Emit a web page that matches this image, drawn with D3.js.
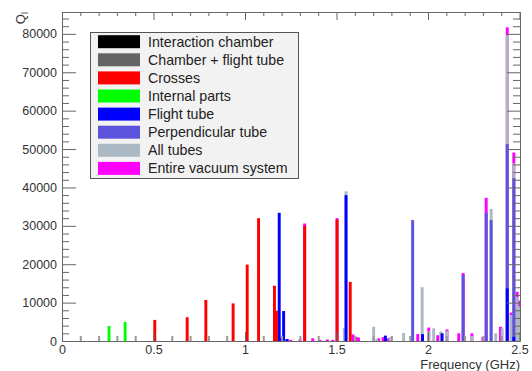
<!DOCTYPE html>
<html>
<head>
<meta charset="utf-8">
<script src="https://cdn.jsdelivr.net/npm/d3@7"></script>
<style>
  html, body { margin: 0; padding: 0; background: #fff; }
  svg { display: block; font-family: "Liberation Sans", Arial, sans-serif; }
</style>
</head>
<body>
<svg id="chart" width="532" height="371"></svg>
<script>
// Quality factor of resonant modes per vacuum component, [frequency GHz, Q]
const interactionChamber = [];
const chamberFlightTube = [];
const crosses = [
  [0.507, 5500], [0.684, 6200], [0.786, 10700], [0.935, 9800], [1.012, 19900],
  [1.074, 32000], [1.161, 14400], [1.172, 7900], [1.326, 30000], [1.503, 31600],
  [1.575, 15400]
];
const internalParts = [[0.257, 3900], [0.345, 4950]];
const flightTube = [
  [1.187, 33400], [1.197, 700], [1.211, 7800], [1.23, 500], [1.552, 38000],
  [1.767, 1400], [1.97, 1800], [2.077, 2000], [2.433, 13700], [2.469, 1100]
];
const perpendicularTube = [
  [1.916, 31500], [2.192, 17200], [2.318, 33400], [2.345, 31500],
  [2.433, 51300], [2.469, 42400]
];
const allTubes = [
  [1.543, 3400], [1.552, 39000], [1.703, 3700], [1.72, 500], [1.794, 1000],
  [1.867, 2100], [1.968, 14000], [2.004, 2600], [2.031, 3300], [2.07, 2500],
  [2.104, 2600], [2.24, 1300], [2.345, 34400], [2.37, 2000], [2.405, 3300],
  [2.433, 79700], [2.455, 6800], [2.469, 46300], [2.487, 11500], [2.497, 9000]
];
const entireVacuumSystem = [
  [1.23, 500], [1.25, 300], [1.30, 400], [1.326, 30600], [1.37, 700], [1.41, 300],
  [1.45, 400], [1.48, 300], [1.503, 32000], [1.59, 1700], [1.61, 1000], [1.62, 900],
  [1.73, 700], [1.755, 1000], [1.78, 700], [1.944, 1800], [2.004, 3500],
  [2.053, 1500], [2.104, 3000], [2.168, 2000], [2.192, 17700], [2.24, 2000],
  [2.30, 1000], [2.318, 37300], [2.396, 3700], [2.433, 81700], [2.455, 7400],
  [2.469, 49100], [2.487, 12800], [2.497, 10500]
];

const seriesNames = [
  "Interaction chamber", "Chamber + flight tube", "Crosses", "Internal parts",
  "Flight tube", "Perpendicular tube", "All tubes", "Entire vacuum system"
];
const seriesColors = [
  "#000000", "#646464", "#ff0000", "#00ff00",
  "#0000ff", "#5c53dc", "#aab9c3", "#ff00ff"
];
const seriesData = [
  interactionChamber, chamberFlightTube, crosses, internalParts,
  flightTube, perpendicularTube, allTubes, entireVacuumSystem
];

const xMajorTicks = [0, 0.5, 1, 1.5, 2, 2.5];
const xTickLabels = ["0", "0.5", "1", "1.5", "2", "2.5"];
const yMajorTicks = [0, 10000, 20000, 30000, 40000, 50000, 60000, 70000, 80000];
const binWidth = 0.016;

const svg = d3.select("#chart");
const frame = { left: 62, right: 520, top: 12, bottom: 341 };

const x = d3.scaleLinear().domain([0, 2.5]).range([frame.left, frame.right - 0.5]);
const y = d3.scaleLinear().domain([0, 85700]).range([frame.bottom, frame.top]);

const xMinor = d3.range(0, 2.5001, 0.1).filter(v => Math.abs(v / 0.5 - Math.round(v / 0.5)) > 1e-6);
const yMinor = d3.range(0, 85700, 2000).filter(v => v % 10000 !== 0);

svg.append("clipPath").attr("id", "frameClip")
  .append("rect").attr("x", frame.left).attr("y", frame.top)
  .attr("width", frame.right - frame.left).attr("height", frame.bottom - frame.top);

// Bars: last legend entry sits at the back, first at the front
const barsG = svg.append("g").attr("clip-path", "url(#frameClip)");
const bw = x(binWidth) - x(0);
for (let i = seriesData.length - 1; i >= 0; i--) {
  barsG.append("g")
    .selectAll("rect")
    .data(seriesData[i])
    .join("rect")
    .attr("x", d => x(d[0]) - bw / 2)
    .attr("width", bw)
    .attr("y", d => y(d[1]))
    .attr("height", d => y(0) - y(d[1]))
    .attr("fill", seriesColors[i]);
}

// Axes with inward ticks on all four sides
const tickColor = "#666";
function styleAxis(g) {
  g.select(".domain").attr("stroke", tickColor).attr("stroke-width", 1);
  g.selectAll(".tick line").attr("stroke", tickColor).attr("stroke-width", 1);
  g.selectAll(".tick text").attr("fill", "#333")
    .attr("font-family", "Liberation Sans, Arial, sans-serif")
    .attr("font-size", "12.5px");
}

// left
svg.append("g").attr("transform", `translate(${frame.left},0)`)
  .call(d3.axisLeft(y).tickValues(yMinor).tickSizeInner(-7).tickSizeOuter(0).tickFormat(""))
  .call(styleAxis);
svg.append("g").attr("transform", `translate(${frame.left},0)`)
  .call(d3.axisLeft(y).tickValues(yMajorTicks).tickSizeInner(-14).tickSizeOuter(0)
    .tickPadding(5).tickFormat(d3.format("d")))
  .call(styleAxis);
// right
svg.append("g").attr("transform", `translate(${frame.right},0)`)
  .call(d3.axisRight(y).tickValues(yMinor).tickSizeInner(-7).tickSizeOuter(0).tickFormat(""))
  .call(styleAxis);
svg.append("g").attr("transform", `translate(${frame.right},0)`)
  .call(d3.axisRight(y).tickValues(yMajorTicks).tickSizeInner(-13).tickSizeOuter(0).tickFormat(""))
  .call(styleAxis);
// bottom
svg.append("g").attr("transform", `translate(0,${frame.bottom})`)
  .call(d3.axisBottom(x).tickValues(xMinor).tickSizeInner(-5).tickSizeOuter(0).tickFormat(""))
  .call(styleAxis)
  .selectAll(".tick line").attr("stroke", "#999").attr("stroke-width", 2);
svg.append("g").attr("transform", `translate(0,${frame.bottom})`)
  .call(d3.axisBottom(x).tickValues(xMajorTicks).tickSizeInner(-9).tickSizeOuter(0)
    .tickPadding(4).tickFormat((d, i) => xTickLabels[i]))
  .call(styleAxis);
// top
svg.append("g").attr("transform", `translate(0,${frame.top})`)
  .call(d3.axisTop(x).tickValues(xMinor).tickSizeInner(-4).tickSizeOuter(0).tickFormat(""))
  .call(styleAxis);
svg.append("g").attr("transform", `translate(0,${frame.top})`)
  .call(d3.axisTop(x).tickValues(xMajorTicks).tickSizeInner(-8).tickSizeOuter(0).tickFormat(""))
  .call(styleAxis);

// Axis titles
const yTitle = svg.append("text")
  .attr("transform", `translate(25,${frame.top}) rotate(-90)`)
  .attr("text-anchor", "end")
  .attr("fill", "#333")
  .attr("font-size", "13px");
yTitle.append("tspan").text("Q");
yTitle.append("tspan").attr("font-size", "9px").attr("dy", 3).text("l");

svg.append("text")
  .attr("x", frame.right).attr("y", 369)
  .attr("text-anchor", "end")
  .attr("fill", "#333")
  .attr("font-size", "13px")
  .text("Frequency (GHz)");

// Legend
const legend = svg.append("g");
legend.append("rect")
  .attr("x", 90.5).attr("y", 32.5).attr("width", 208).attr("height", 146)
  .attr("fill", "#f2f2f2").attr("stroke", "#555").attr("stroke-width", 1);
const rows = legend.selectAll("g.row")
  .data(seriesNames)
  .join("g").attr("class", "row")
  .attr("transform", (d, i) => `translate(0,${41.7 + i * 18.1})`);
rows.append("rect")
  .attr("x", 98).attr("y", -6.5).attr("width", 42).attr("height", 13)
  .attr("fill", (d, i) => seriesColors[i]);
rows.append("text")
  .attr("x", 148).attr("y", 5)
  .attr("fill", "#222")
  .attr("font-size", "14.2px")
  .text(d => d);
</script>
</body>
</html>
